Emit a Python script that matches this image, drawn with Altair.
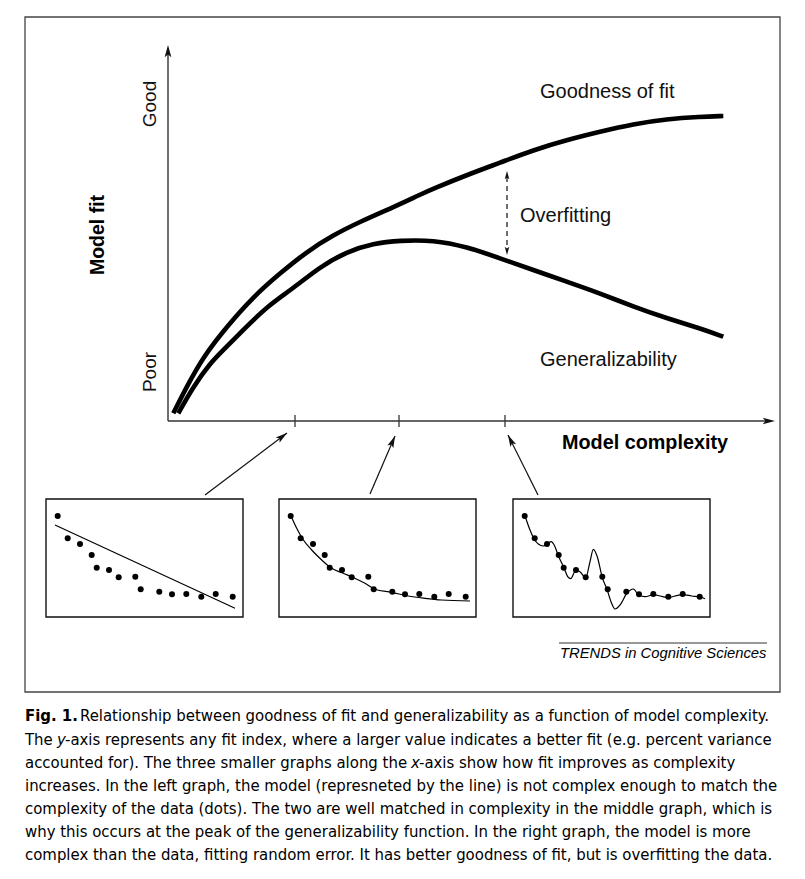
import math
import altair as alt
import pandas as pd

# ---------------- data ----------------
# main plot: model complexity (x) vs model fit (y), in axis units from the origin
gof_complexity = [5.3, 18.7, 35.3, 58.7, 85.3, 112, 138.7, 165.3, 192, 225.3, 252, 265.3,
                  298.7, 332, 365.3, 398.7, 432, 465.3, 498.7, 532, 555.3]
gof_fit = [7.7, 34.3, 64.3, 94.3, 124.3, 147.7, 169.3, 186, 199.3, 213.8, 226.3, 232.3,
           246, 258.3, 271, 281, 289.3, 297, 302, 304.3, 305]
gen_complexity = [10.3, 25.3, 42, 55.3, 75.3, 98.7, 125.3, 152, 178.7, 205.3, 232, 265.3,
                  298.7, 332, 365.3, 398.7, 432, 465.3, 498.7, 532, 555.3]
gen_fit = [7.7, 34.3, 57.7, 71, 91, 114.3, 132.7, 154.3, 169.3, 177.7, 180.5, 181,
           174.3, 162.7, 151, 139.3, 127.7, 114.3, 102.7, 92.7, 84.3]
tick_complexity = [127, 231, 337]
axis_len_x = 607
axis_len_y = 376

# small graphs: the same data dots in all three
dots_x = [11.7, 21.7, 34, 45.7, 50.7, 63, 72.7, 89.3, 94.7, 113.3, 126, 140.3, 155.3, 169.7, 186.7]
dots_y = [101, 78.7, 73, 62, 49.3, 47, 39.7, 40.3, 27.7, 25.3, 22.7, 23, 20.3, 23, 20.3]
# left model: straight line
m1_x = [9, 189]
m1_y = [92, 8.7]
# middle model: smooth decay
m2_x = [12, 17.7, 23.7, 32.7, 42.7, 52.7, 64.3, 74.7, 86, 96, 112.7, 129.3, 146, 162.7, 191]
m2_y = [101, 88.7, 78, 67, 57, 48.7, 43.7, 39.3, 33.7, 27.7, 24.7, 21, 18.7, 17, 16]
# right model: overly complex wiggly curve
m3_x = [12, 17, 21.3, 25.3, 30.3, 34.7, 38, 42, 45.3, 51, 54.7, 57.7, 63, 67, 72.7, 77, 80.3,
        84.3, 89.3, 94, 98, 102, 107, 114.3, 120.3, 126, 132, 140.7, 147, 155.3, 162, 169.7,
        178.7, 187.3, 192]
m3_y = [101, 87, 77.7, 73, 71, 73, 75.3, 70.3, 61.3, 49.3, 40.3, 38.3, 47, 45.3, 39.3, 55.3,
        67.7, 60.3, 39.3, 27.7, 15.3, 8, 12, 24.3, 28, 21.7, 20.3, 22.3, 21, 19.3, 21, 22.3,
        21, 20, 18.3]

caption_lines = [
    "Relationship between goodness of fit and generalizability as a function of model complexity.",
    "-axis represents any fit index, where a larger value indicates a better fit (e.g. percent variance",
    "-axis show how fit improves as complexity",
    "increases. In the left graph, the model (represneted by the line) is not complex enough to match the",
    "complexity of the data (dots). The two are well matched in complexity in the middle graph, which is",
    "why this occurs at the peak of the generalizability function. In the right graph, the model is more",
    "complex than the data, fitting random error. It has better goodness of fit, but is overfitting the data.",
]

# ---------------- layout ----------------
OX, OY = 168, 421            # origin of main axes (page px)
PANELS = [(46, 499), (279, 499), (513, 499)]   # top-left of small graphs
PW, PH = 197, 118
ARROWS = [((205, 495), (287, 433)), ((370, 494), (395, 436)), ((538, 495), (508, 435))]

XS = alt.Scale(domain=[8, 797], nice=False, zero=False)
YS = alt.Scale(domain=[8, 871], nice=False, zero=False, reverse=True)


def X(f):
    return alt.X(f, type="quantitative", scale=XS, axis=None)


def Y(f):
    return alt.Y(f, type="quantitative", scale=YS, axis=None)


def X2(f):
    return alt.X2(f)


def Y2(f):
    return alt.Y2(f)


ARROW_PATH = "M0,-1L0.55,1L0,0.55L-0.55,1Z"


def heads(tips, size):
    """tips: list of (tip_x, tip_y, from_x, from_y)."""
    L = math.sqrt(size)
    rows = []
    for tx, ty, fx, fy in tips:
        dx, dy = tx - fx, ty - fy
        d = math.hypot(dx, dy)
        ux, uy = dx / d, dy / d
        ang = math.degrees(math.atan2(dx, -dy)) % 360
        rows.append({"x": tx - ux * L / 2, "y": ty - uy * L / 2, "ang": ang})
    return rows


layers = []

# outer frame
frame = pd.DataFrame([{"x": 25, "y": 17, "x2": 780, "y2": 692}])
layers.append(alt.Chart(frame).mark_rect(fillOpacity=0, stroke="#444", strokeWidth=1.3).encode(
    x=X("x"), y=Y("y"), x2=X2("x2"), y2=Y2("y2")))

# axes lines
axes = pd.DataFrame([
    {"x": OX, "y": OY, "x2": OX + axis_len_x - 6, "y2": OY},
    {"x": OX, "y": OY, "x2": OX, "y2": OY - axis_len_y + 6},
])
layers.append(alt.Chart(axes).mark_rule(color="#333", strokeWidth=1.4).encode(
    x=X("x"), y=Y("y"), x2=X2("x2"), y2=Y2("y2")))
axis_heads = heads([(OX + axis_len_x, OY, OX, OY), (OX, OY - axis_len_y, OX, OY)], 150)
layers.append(alt.Chart(pd.DataFrame(axis_heads)).mark_point(
    shape=ARROW_PATH, filled=True, color="#111", opacity=1, size=150).encode(
    x=X("x"), y=Y("y"), angle=alt.Angle("ang:Q", scale=None)))

# ticks
ticks = pd.DataFrame([{"x": OX + c, "y": OY - 6, "y2": OY + 6} for c in tick_complexity])
layers.append(alt.Chart(ticks).mark_rule(color="#333", strokeWidth=1.3).encode(
    x=X("x"), y=Y("y"), y2=Y2("y2")))

# main curves
curves = pd.DataFrame(
    [{"s": "gof", "i": i, "x": OX + c, "y": OY - f} for i, (c, f) in enumerate(zip(gof_complexity, gof_fit))]
    + [{"s": "gen", "i": i, "x": OX + c, "y": OY - f} for i, (c, f) in enumerate(zip(gen_complexity, gen_fit))]
)
layers.append(alt.Chart(curves).mark_line(color="black", strokeWidth=4.6, interpolate="basis").encode(
    x=X("x"), y=Y("y"), detail="s:N", order="i:Q"))

# overfitting dashed double arrow
of_x = 507
of_top, of_bot = 171, 255
layers.append(alt.Chart(pd.DataFrame([{"x": of_x, "y": of_top + 6, "y2": of_bot - 6}])).mark_rule(
    color="#222", strokeWidth=1.3, strokeDash=[5, 4]).encode(x=X("x"), y=Y("y"), y2=Y2("y2")))
layers.append(alt.Chart(pd.DataFrame(heads([(of_x, of_top, of_x, of_bot), (of_x, of_bot, of_x, of_top)], 70))).mark_point(
    shape=ARROW_PATH, filled=True, color="#111", opacity=1, size=70).encode(
    x=X("x"), y=Y("y"), angle=alt.Angle("ang:Q", scale=None)))

# arrows from small graphs to ticks
arr = pd.DataFrame([{"x": a[0], "y": a[1], "x2": b[0], "y2": b[1]} for a, b in ARROWS])
layers.append(alt.Chart(arr).mark_rule(color="#111", strokeWidth=1.2).encode(
    x=X("x"), y=Y("y"), x2=X2("x2"), y2=Y2("y2")))
layers.append(alt.Chart(pd.DataFrame(heads([(b[0], b[1], a[0], a[1]) for a, b in ARROWS], 140))).mark_point(
    shape=ARROW_PATH, filled=True, color="#111", opacity=1, size=140).encode(
    x=X("x"), y=Y("y"), angle=alt.Angle("ang:Q", scale=None)))

# small graphs
boxes = pd.DataFrame([{"x": px, "y": py, "x2": px + PW, "y2": py + PH} for px, py in PANELS])
layers.append(alt.Chart(boxes).mark_rect(fillOpacity=0, stroke="#111", strokeWidth=1.4).encode(
    x=X("x"), y=Y("y"), x2=X2("x2"), y2=Y2("y2")))

dot_rows = []
for p, (px, py) in enumerate(PANELS):
    for dx, dy in zip(dots_x, dots_y):
        dot_rows.append({"p": p, "x": px + dx, "y": py + PH - dy})
layers.append(alt.Chart(pd.DataFrame(dot_rows)).mark_circle(color="black", opacity=1, size=36).encode(
    x=X("x"), y=Y("y")))

model_rows = []
for p, (mx, my) in enumerate([(m1_x, m1_y), (m2_x, m2_y), (m3_x, m3_y)]):
    px, py = PANELS[p]
    for i, (a, b) in enumerate(zip(mx, my)):
        model_rows.append({"p": p, "i": i, "x": px + a, "y": py + PH - b})
layers.append(alt.Chart(pd.DataFrame(model_rows)).mark_line(color="black", strokeWidth=1.2, interpolate="monotone").encode(
    x=X("x"), y=Y("y"), detail="p:N", order="i:Q"))

# labels
FONT = "Liberation Sans"
labels = pd.DataFrame([
    {"t": "Goodness of fit", "x": 540, "y": 92},
    {"t": "Overfitting", "x": 520, "y": 216},
    {"t": "Generalizability", "x": 540, "y": 360},
])
layers.append(alt.Chart(labels).mark_text(font=FONT, fontSize=20, align="left", baseline="middle", color="#111").encode(
    x=X("x"), y=Y("y"), text="t:N"))
layers.append(alt.Chart(pd.DataFrame([{"t": "Model complexity", "x": 562, "y": 443}])).mark_text(
    font=FONT, fontSize=19.8, fontWeight="bold", align="left", baseline="middle", color="black").encode(
    x=X("x"), y=Y("y"), text="t:N"))
layers.append(alt.Chart(pd.DataFrame([{"t": "Model fit", "x": 98, "y": 235}])).mark_text(
    font=FONT, fontSize=19.5, fontWeight="bold", align="center", baseline="middle", angle=270, color="black").encode(
    x=X("x"), y=Y("y"), text="t:N"))
layers.append(alt.Chart(pd.DataFrame([{"t": "Good", "x": 150, "y": 104}, {"t": "Poor", "x": 150, "y": 372}])).mark_text(
    font=FONT, fontSize=19, align="center", baseline="middle", angle=270, color="#111").encode(
    x=X("x"), y=Y("y"), text="t:N"))

# source line
layers.append(alt.Chart(pd.DataFrame([{"x": 559, "x2": 767, "y": 643}])).mark_rule(color="#333", strokeWidth=1).encode(
    x=X("x"), x2=X2("x2"), y=Y("y")))
layers.append(alt.Chart(pd.DataFrame([{"t": "TRENDS in Cognitive Sciences", "x": 560, "y": 654}])).mark_text(
    font=FONT, fontSize=14.8, fontStyle="italic", align="left", baseline="middle", color="black").encode(
    x=X("x"), y=Y("y"), text="t:N"))

# caption
CF = "Liberation Sans Narrow, DejaVu Sans Condensed, sans-serif"
CS = 16.6
line_y = [716, 740, 763, 786, 809, 832, 855]
cap = [
    {"t": "Fig. 1.", "x": 25, "y": line_y[0], "w": "bold", "s": "normal"},
    {"t": caption_lines[0], "x": 80, "y": line_y[0], "w": "normal", "s": "normal"},
    {"t": "The", "x": 25, "y": line_y[1], "w": "normal", "s": "normal"},
    {"t": "y", "x": 57, "y": line_y[1], "w": "normal", "s": "italic"},
    {"t": caption_lines[1], "x": 65, "y": line_y[1], "w": "normal", "s": "normal"},
    {"t": "accounted for). The three smaller graphs along the", "x": 25, "y": line_y[2], "w": "normal", "s": "normal"},
    {"t": "x", "x": 411, "y": line_y[2], "w": "normal", "s": "italic"},
    {"t": caption_lines[2], "x": 419, "y": line_y[2], "w": "normal", "s": "normal"},
] + [{"t": caption_lines[k], "x": 25, "y": line_y[k], "w": "normal", "s": "normal"} for k in range(3, 7)]
cap_df = pd.DataFrame(cap)
for (w, s), g in cap_df.groupby(["w", "s"]):
    layers.append(alt.Chart(g).mark_text(font=CF, fontSize=CS, fontWeight=w, fontStyle=s, align="left",
                                         baseline="middle", color="black").encode(
        x=X("x"), y=Y("y"), text="t:N"))

chart = alt.layer(*layers).properties(width=789, height=863, padding=0, autosize="none").configure_view(stroke=None)
chart.save("out.html", embed_options={"renderer": "svg", "actions": False})
